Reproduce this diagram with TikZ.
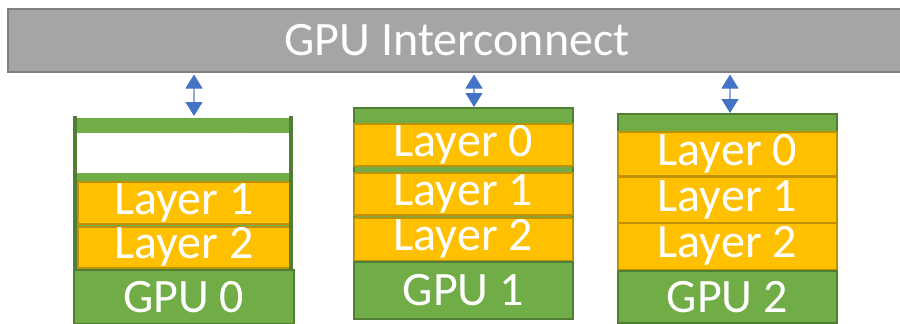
\documentclass[tikz,border=0pt]{standalone}
\usepackage{fontspec}
\setmainfont{Carlito}
\usetikzlibrary{arrows.meta}
\definecolor{busgray}{HTML}{A5A5A5}
\definecolor{busedge}{HTML}{7F7F7F}
\definecolor{gpugreen}{HTML}{70AD47}
\definecolor{gpuedge}{HTML}{507E32}
\definecolor{layerorange}{HTML}{FFC000}
\definecolor{layeredge}{HTML}{BF9000}
\definecolor{linkblue}{HTML}{4472C4}
\definecolor{linkshaft}{HTML}{8FAADC}
\tikzset{
    block/.style={rectangle, inner sep=0pt, anchor=north west, text=white, font=\fontsize{48}{54}\selectfont},
    wh/.style 2 args={minimum width=#1pt, minimum height=#2pt},
    layer/.style={block, fill=layerorange, draw=layeredge, line width=1.5pt},
    gpu/.style={block, fill=gpugreen, draw=gpuedge, line width=1.5pt},
    link/.style={draw=linkshaft, line width=1.2pt, shorten <=1.5pt,
        {Triangle[width=17pt,length=14pt,color=linkblue]}-{Triangle[width=17pt,length=14pt,color=linkblue]}},
}

\begin{document}
\begin{tikzpicture}[x=1pt,y=-1pt]
    \useasboundingbox (0,0) rectangle (900,324);
    \node[block, wh={898}{63}, fill=busgray, draw=busedge, line width=2pt] (bus) at (7,8) {GPU Interconnect};

    \node[block, wh={216}{152}, fill=gpugreen] (stack0) at (75,118) {};
    \node[block, wh={212}{40}, fill=white] (l00) at (77,133) {Layer 0};
    \node[layer, wh={212}{42}] (l01) at (77,181) {Layer 1};
    \node[layer, wh={212}{41}] (l02) at (77,226) {Layer 2};
    \draw[gpuedge, line width=4pt] ([yshift=2pt]stack0.north west) -- (stack0.south west);
    \draw[gpuedge, line width=4pt] ([yshift=2pt]stack0.north east) -- (stack0.south east);
    \node[gpu, wh={220}{54}] (gpu0) at (73,269) {GPU 0};

    \node[gpu, wh={219}{154}] (stack1) at (353,107) {};
    \node[layer, wh={219}{42}] (l10) at (353,123) {Layer 0};
    \node[layer, wh={219}{42}] (l11) at (353,172) {Layer 1};
    \node[layer, wh={219}{43}] (l12) at (353,217) {Layer 2};
    \node[gpu, wh={219}{57}] (gpu1) at (353,261) {GPU 1};

    \node[gpu, wh={219}{157}] (stack2) at (617,113) {};
    \node[layer, wh={219}{44}] (l20) at (617,131) {Layer 0};
    \node[layer, wh={219}{46}] (l21) at (617,176) {Layer 1};
    \node[layer, wh={219}{47}] (l22) at (617,222) {Layer 2};
    \node[gpu, wh={219}{52}] (gpu2) at (617,270) {GPU 2};

    \coordinate (top0) at (194,116);
    \coordinate (top1) at (474,107);
    \coordinate (top2) at (730,113);
    \draw[link] (bus.south -| top0) -- (top0);
    \draw[link] (bus.south -| top1) -- (top1);
    \draw[link] (bus.south -| top2) -- (top2);
\end{tikzpicture}
\end{document}
